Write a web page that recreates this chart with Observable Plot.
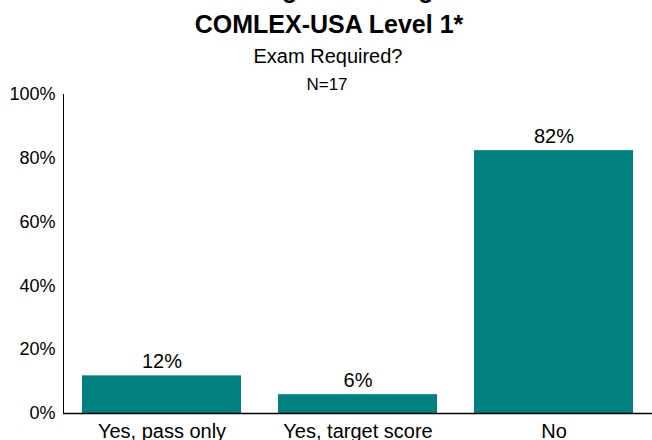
<!DOCTYPE html>
<html>
<head>
<meta charset="utf-8">
<script src="https://cdn.jsdelivr.net/npm/d3@7"></script>
<script src="https://cdn.jsdelivr.net/npm/@observablehq/plot@0.6"></script>
<style>
  html, body { margin: 0; padding: 0; background: #fff; }
  #wrap { position: relative; width: 652px; height: 440px; overflow: hidden; font-family: "Liberation Sans", Arial, sans-serif; color: #000; }
  .t { position: absolute; left: 0; width: 652px; text-align: center; white-space: nowrap; }
  #t0 { top: -23px; font-weight: bold; font-size: 25px; line-height: 25px; padding-left: 22px; box-sizing: border-box; }
  #t1 { top: 12px; font-weight: bold; font-size: 25px; line-height: 25px; padding-left: 6px; box-sizing: border-box; }
  #t2 { top: 46px; font-size: 20px; line-height: 20px; padding-left: 4px; box-sizing: border-box; }
  #t3 { top: 76px; font-size: 17px; line-height: 17px; padding-left: 2px; box-sizing: border-box; }
  #chart { position: absolute; left: 0; top: 0; }
</style>
</head>
<body>
<div id="wrap">
  <div id="chart"></div>
  <div class="t" id="t0"></div>
  <div class="t" id="t1"></div>
  <div class="t" id="t2"></div>
  <div class="t" id="t3"></div>
</div>
<script>
// ---- data ----
const titleLines = ["Programs Using", "COMLEX-USA Level 1*", "Exam Required?", "N=17"];
const categories = ["Yes, pass only", "Yes, target score", "No"];
const values = [0.118, 0.059, 0.824];
const yTicks = [0, 0.2, 0.4, 0.6, 0.8, 1.0];

const data = categories.map((c, i) => ({cat: c, value: values[i]}));
const pct = d3.format(".0%");

["t0", "t1", "t2", "t3"].forEach((id, i) => {
  document.getElementById(id).textContent = titleLines[i];
});

const chart = Plot.plot({
  width: 652,
  height: 440,
  marginLeft: 63,
  marginRight: 0,
  marginTop: 94,
  marginBottom: 27,
  style: {fontFamily: "'Liberation Sans', Arial, sans-serif", fontSize: "18px", background: "transparent", color: "#000"},
  x: {domain: categories, paddingInner: 0.188, paddingOuter: 0.089},
  y: {domain: [0, 1], ticks: yTicks, tickFormat: pct, tickSize: 0, tickPadding: 8, label: null, line: true},
  marks: [
    Plot.barY(data, {x: "cat", y: "value", fill: "#008080"}),
    Plot.ruleY([0], {stroke: "#000", strokeWidth: 1.5}),
    Plot.axisX({tickSize: 0, tickPadding: 10, label: null, fontSize: 20}),
    Plot.text(data, {x: "cat", y: "value", text: d => pct(d.value), dy: -8, lineAnchor: "bottom", fontSize: 20, fill: "#000"})
  ]
});
document.getElementById("chart").appendChild(chart);
</script>
</body>
</html>
